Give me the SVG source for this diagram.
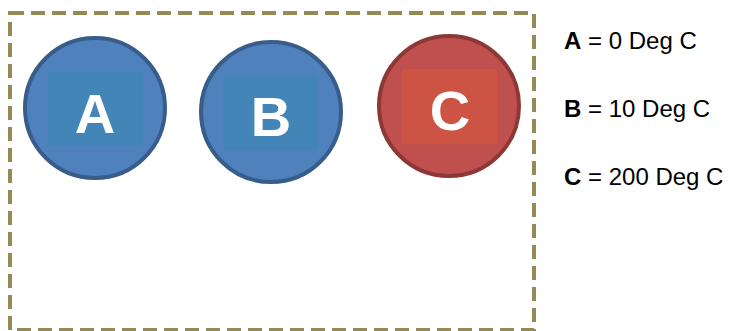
<svg xmlns="http://www.w3.org/2000/svg" width="730" height="331" viewBox="0 0 730 331">
<style>
.frame{fill:none;stroke:#948A54;stroke-width:4;stroke-dasharray:14 7}
.blue{fill:#4F81BD;stroke:#385D8A;stroke-width:4}
.red{fill:#C0504D;stroke:#8C3836;stroke-width:4}
.big{font-family:"Liberation Sans",Arial,sans-serif;font-weight:bold;font-size:56px;fill:#fff;text-anchor:middle}
.leg{font-family:"Liberation Sans",Arial,sans-serif;font-size:24px;fill:#000}
</style>
<rect width="730" height="331" fill="#fff"/>
<rect class="frame" x="10" y="13" width="524" height="317"/>
<g id="nodeA">
<circle class="blue" cx="95" cy="108" r="70"/>
<rect x="48" y="71" width="95" height="75" fill="#4485B8"/>
<text class="big" x="95" y="133">A</text>
</g>
<g id="nodeB">
<circle class="blue" cx="271" cy="112" r="70"/>
<rect x="223" y="75" width="95" height="75" fill="#4485B8"/>
<text class="big" x="271" y="136">B</text>
</g>
<g id="nodeC">
<circle class="red" cx="449" cy="106" r="70"/>
<rect x="402" y="69" width="95" height="75" fill="#CD5444"/>
<text class="big" x="450" y="130">C</text>
</g>
<g id="legend">
<text class="leg" x="564" y="49"><tspan font-weight="bold">A</tspan> = 0 Deg C</text>
<text class="leg" x="564" y="117"><tspan font-weight="bold">B</tspan> = 10 Deg C</text>
<text class="leg" x="564" y="185"><tspan font-weight="bold">C</tspan> = 200 Deg C</text>
</g>
<g id="connectors"/>
</svg>
